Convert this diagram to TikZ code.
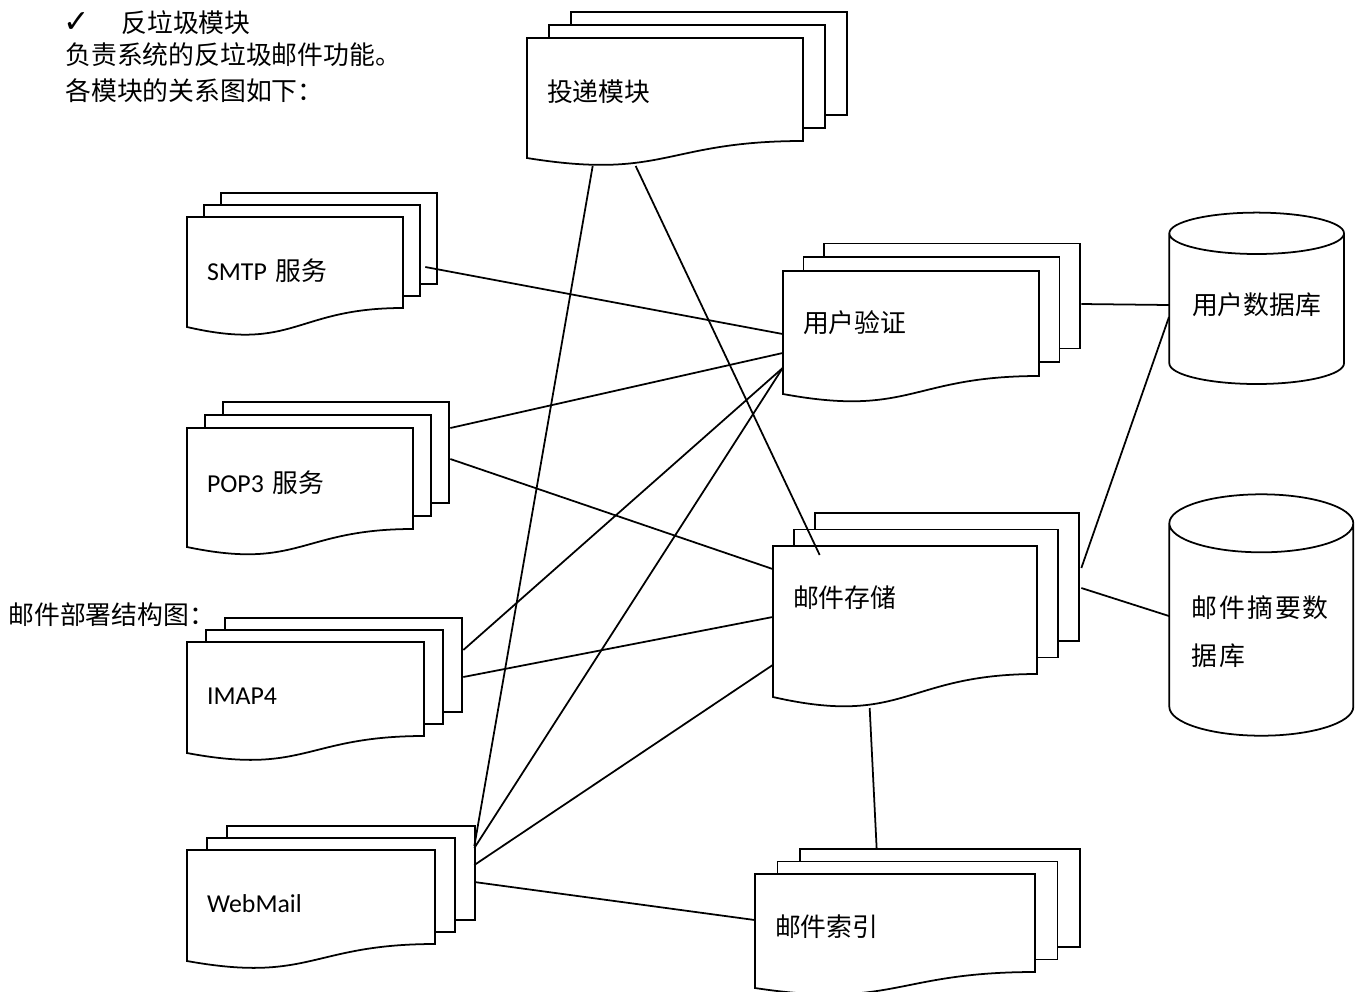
\documentclass[tikz,border=0pt]{standalone}
\usepackage{fontspec}
\setmainfont{Noto Sans CJK SC}
\newfontfamily\latin{Carlito}
\newfontfamily\symb{DejaVu Sans}
\newfontfamily\cjkwide[LetterSpace=8]{Noto Sans CJK SC}
\usepackage{tikz}
\usetikzlibrary{calc}

% stacked sheets: left, top, right, right bottom, left bottom, dx, dy (px, y down)
\newcommand{\docstack}[7]{%
  \draw[sheet] ({#1+2*#6},{#2-2*#7}) rectangle ({#3+2*#6},{#4-2*#7});
  \draw[sheet] ({#1+#6},{#2-#7}) rectangle ({#3+#6},{#4-#7});
  \draw[sheet] (#1,#2) -- (#3,#2) -- (#3,#4)
    .. controls ({(#1+#3)/2},#4) and ({(#1+#3)/2},{#4+2.314*(#5-#4)}) .. (#1,#5) -- cycle;
}
% database can: left, right, top centre, bottom centre, y radius
\newcommand{\dbcan}[5]{%
  \draw[sheet] (#1,#3) -- (#1,#4)
    .. controls (#1,{#4+0.552*#5}) and ({(#1+#2)/2-0.276*(#2-#1)},{#4+#5}) .. ({(#1+#2)/2},{#4+#5})
    .. controls ({(#1+#2)/2+0.276*(#2-#1)},{#4+#5}) and (#2,{#4+0.552*#5}) .. (#2,#4)
    -- (#2,#3)
    .. controls (#2,{#3-0.552*#5}) and ({(#1+#2)/2+0.276*(#2-#1)},{#3-#5}) .. ({(#1+#2)/2},{#3-#5})
    .. controls ({(#1+#2)/2-0.276*(#2-#1)},{#3-#5}) and (#1,{#3-0.552*#5}) .. (#1,#3)
    .. controls (#1,{#3+0.552*#5}) and ({(#1+#2)/2-0.276*(#2-#1)},{#3+#5}) .. ({(#1+#2)/2},{#3+#5})
    .. controls ({(#1+#2)/2+0.276*(#2-#1)},{#3+#5}) and (#2,{#3+0.552*#5}) .. (#2,#3);
}

\begin{document}
\begin{tikzpicture}[
    x=0.02cm, y=-0.02cm,
    sheet/.style={draw, fill=white, line width=1pt},
    doc/.style={inner xsep=0.4cm, inner ysep=0pt, align=left,
                font=\fontsize{14.7}{18}\selectfont},
    txt/.style={inner sep=0pt, anchor=west, font=\fontsize{14.7}{18}\selectfont},
    link/.style={line width=1pt}
  ]
  \useasboundingbox (0,0) rectangle (1361,991);

  % --- Notes ---
  \node[txt] (tick) at (63,23) {\symb\fontsize{18}{20}\selectfont ✓};
  \node[txt] (title) at (121,23) {反垃圾模块};
  \node[txt] (duty) at (65,55) {负责系统的反垃圾邮件功能。};
  \node[txt] (relation) at (65,91) {各模块的关系图如下：};
  \node[txt] (deploy) at (8,615) {邮件部署结构图：};

  % --- Modules ---
  \docstack{527}{38}{803}{141}{158}{22}{13}
  \node[doc, text width=4.72cm] (deliver) at (665,92) {投递模块};
  \docstack{187}{217}{403}{308}{327}{17}{12}
  \node[doc, text width=3.52cm] (smtp) at (295,271) {{\latin SMTP }服务};
  \docstack{187}{428}{413}{529}{547}{18}{13}
  \node[doc, text width=3.72cm] (pop) at (300,483) {{\latin POP3 }服务};
  \docstack{187}{642}{424}{736}{753}{19}{12}
  \node[doc, text width=3.94cm] (imap) at (305.5,696) {{\latin IMAP4}};
  \docstack{187}{850}{435}{944}{961}{20}{12}
  \node[doc, text width=4.16cm] (web) at (311,904) {{\latin WebMail}};
  \docstack{783}{271}{1039}{376}{394}{20.5}{13.7}
  \node[doc, text width=4.32cm] (auth) at (911,323) {用户验证};
  \docstack{773}{546}{1037}{674}{697}{21}{16.5}
  \node[doc, text width=4.48cm] (store) at (905,598) {邮件存储};
  \docstack{755}{874}{1035}{972}{988}{22.5}{12.5}
  \node[doc, text width=4.8cm] (index) at (895,927) {邮件索引};

  % --- Databases ---
  \dbcan{1169.3}{1344}{233.3}{363.3}{20.7}
  \node[doc, inner sep=0pt, minimum width=3.494cm] (userdb) at (1256.65,305) {用户数据库};
  \dbcan{1169.3}{1353.3}{523.3}{706.7}{29}
  \node[doc, inner xsep=0.44cm, text width=2.8cm,
        font=\cjkwide\fontsize{14.7}{27.3}\selectfont] (digestdb) at (1261.3,632)
    {邮件摘要数\\据库};

  % --- Links ---
  \draw[link] ($(smtp.east)+(22,-4)$) -- ($(auth.west)+(0,11)$);
  \draw[link] ($(pop.east)+(37,-55)$) -- ($(auth.west)+(0,30)$);
  \draw[link] ($(pop.east)+(37,-24)$) -- ($(store.west)+(0,-29)$);
  \draw[link] ($(imap.east)+(39,-46)$) -- ($(auth.west)+(0,45)$);
  \draw[link] ($(imap.east)+(39,-19)$) -- ($(store.west)+(0,19)$);
  \draw[link] ($(deliver.west)+(66,74)$) -- ($(web.east)+(39,-58)$);
  \draw[link] ($(deliver.west)+(109,74)$) -- ($(store.west)+(47,-43)$);
  \draw[link] ($(auth.west)+(0,45)$) -- ($(web.east)+(39,-56)$);
  \draw[link] ($(store.west)+(0,67)$) -- ($(web.east)+(39,-39)$);
  \draw[link] ($(web.east)+(39,-22)$) -- ($(index.west)+(0,-7)$);
  \draw[link] ($(store.west)+(97,110)$) -- ($(index.west)+(122,-78)$);
  \draw[link] ($(auth.east)+(42,-19)$) -- (userdb.west);
  \draw[link] ($(store.east)+(44,-30)$) -- ($(userdb.west)+(0,12)$);
  \draw[link] ($(store.east)+(44,-10)$) -- ($(digestdb.west)+(0,-16)$);
\end{tikzpicture}
\end{document}
